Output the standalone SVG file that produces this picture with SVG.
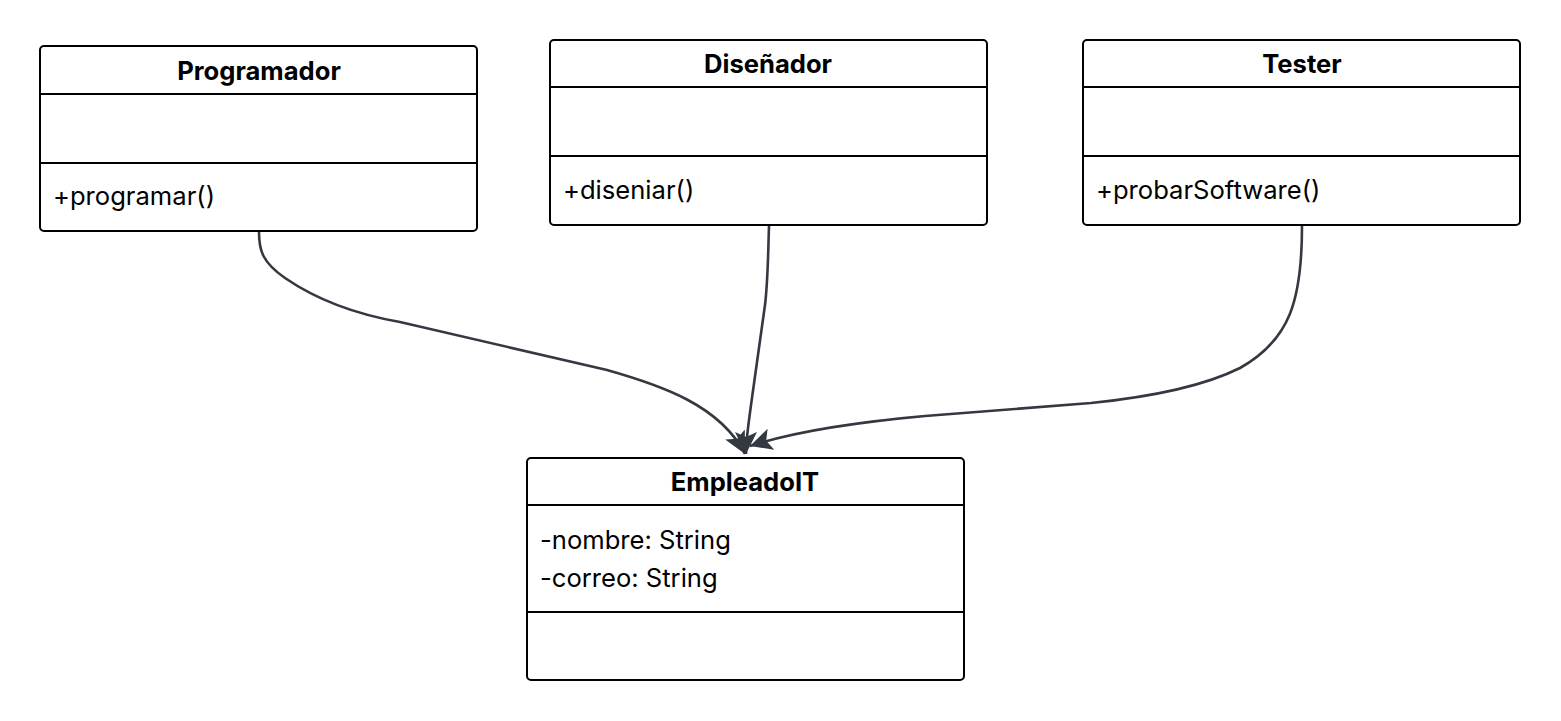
<svg xmlns="http://www.w3.org/2000/svg" width="1561" height="721" viewBox="0 0 1561 721">
<style>
.box{fill:#ffffff;stroke:#000000;stroke-width:2}
.div{stroke:#000000;stroke-width:2}
.title{font-family:Inter,"Liberation Sans",sans-serif;font-weight:bold;font-size:25.6px;fill:#000;text-anchor:middle}
.mem{font-family:Inter,"Liberation Sans",sans-serif;font-size:25.6px;fill:#000}
.edge{fill:none;stroke:#333841;stroke-width:2.6}
</style>
<defs>
<marker id="arr" markerUnits="userSpaceOnUse" markerWidth="26" markerHeight="24" refX="22" refY="11" orient="auto">
<path d="M0,0 L22,11 L0,22 L5,11 z" fill="#333841"/>
</marker>
</defs>
<rect width="1561" height="721" fill="#ffffff"/>
<g id="connectors">
<path class="edge" marker-end="url(#arr)" d="M259,232 C259,250 262,262 285,278 C320,302 360,315 400,322 L607,370 C660,385 720,405 745,454"/>
<path class="edge" marker-end="url(#arr)" d="M769,226 C768,255 768,280 765,305 L751,405 C748,428 746,440 746,454"/>
<path class="edge" marker-end="url(#arr)" d="M1302,226 C1302,300 1290,340 1240,368 C1200,388 1140,398 1091,403 L925,416 C860,422 800,430 750,446"/>
</g>
<g id="Programador">
<rect class="box" x="40" y="46" width="437" height="185" rx="4"/>
<line class="div" x1="40" y1="94" x2="477" y2="94"/>
<line class="div" x1="40" y1="163" x2="477" y2="163"/>
<text class="title" x="259" y="80">Programador</text>
<text class="mem" x="53" y="205">+programar()</text>
</g>
<g id="Disenador">
<rect class="box" x="550" y="40" width="437" height="185" rx="4"/>
<line class="div" x1="550" y1="87" x2="987" y2="87"/>
<line class="div" x1="550" y1="156" x2="987" y2="156"/>
<text class="title" x="768" y="73">Diseñador</text>
<text class="mem" x="563" y="199">+diseniar()</text>
</g>
<g id="Tester">
<rect class="box" x="1083" y="40" width="437" height="185" rx="4"/>
<line class="div" x1="1083" y1="87" x2="1520" y2="87"/>
<line class="div" x1="1083" y1="156" x2="1520" y2="156"/>
<text class="title" x="1302" y="73">Tester</text>
<text class="mem" x="1096" y="199">+probarSoftware()</text>
</g>
<g id="EmpleadoIT">
<rect class="box" x="527" y="458" width="437" height="222" rx="4"/>
<line class="div" x1="527" y1="505" x2="964" y2="505"/>
<line class="div" x1="527" y1="612" x2="964" y2="612"/>
<text class="title" x="745" y="491">EmpleadoIT</text>
<text class="mem" x="540" y="549">-nombre: String</text>
<text class="mem" x="540" y="587">-correo: String</text>
</g>
</svg>
